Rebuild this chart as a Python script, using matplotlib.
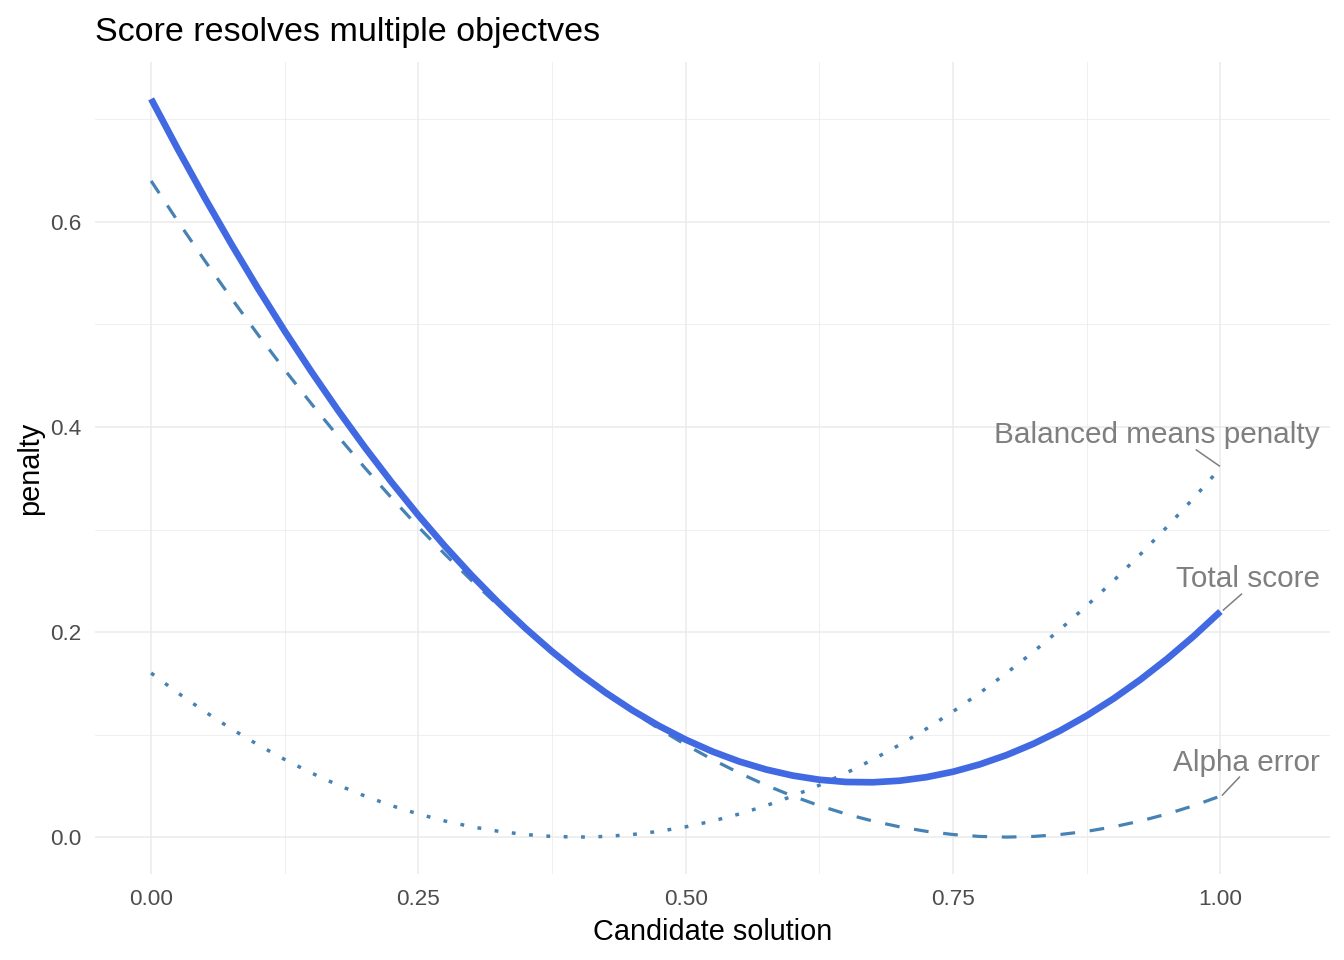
import matplotlib
matplotlib.use("Agg")
import matplotlib.pyplot as plt
from matplotlib.ticker import FixedLocator

plt.rcParams['font.family'] = ['Liberation Sans', 'DejaVu Sans']

x_vals = [0.000, 0.025, 0.050, 0.075, 0.100, 0.125, 0.150, 0.175, 0.200, 0.225,
          0.250, 0.275, 0.300, 0.325, 0.350, 0.375, 0.400, 0.425, 0.450, 0.475,
          0.500, 0.525, 0.550, 0.575, 0.600, 0.625, 0.650, 0.675, 0.700, 0.725,
          0.750, 0.775, 0.800, 0.825, 0.850, 0.875, 0.900, 0.925, 0.950, 0.975, 1.000]
alpha_error = [0.640, 0.600625, 0.5625, 0.525625, 0.490, 0.455625, 0.4225, 0.390625, 0.360, 0.330625,
               0.3025, 0.275625, 0.250, 0.225625, 0.2025, 0.180625, 0.160, 0.140625, 0.1225, 0.105625,
               0.090, 0.075625, 0.0625, 0.050625, 0.040, 0.030625, 0.0225, 0.015625, 0.010, 0.005625,
               0.0025, 0.000625, 0.000, 0.000625, 0.0025, 0.005625, 0.010, 0.015625, 0.0225, 0.030625, 0.040]
balanced_penalty = [0.160, 0.140625, 0.1225, 0.105625, 0.090, 0.075625, 0.0625, 0.050625, 0.040, 0.030625,
                    0.0225, 0.015625, 0.010, 0.005625, 0.0025, 0.000625, 0.000, 0.000625, 0.0025, 0.005625,
                    0.010, 0.015625, 0.0225, 0.030625, 0.040, 0.050625, 0.0625, 0.075625, 0.090, 0.105625,
                    0.1225, 0.140625, 0.160, 0.180625, 0.2025, 0.225625, 0.250, 0.275625, 0.3025, 0.330625, 0.360]
total_score = [0.720, 0.6709375, 0.62375, 0.5784375, 0.535, 0.4934375, 0.45375, 0.4159375, 0.380, 0.3459375,
               0.31375, 0.2834375, 0.255, 0.2284375, 0.20375, 0.1809375, 0.160, 0.1409375, 0.12375, 0.1084375,
               0.095, 0.0834375, 0.07375, 0.0659375, 0.060, 0.0559375, 0.05375, 0.0534375, 0.055, 0.0584375,
               0.06375, 0.0709375, 0.080, 0.0909375, 0.10375, 0.1184375, 0.135, 0.1534375, 0.17375, 0.1959375, 0.220]

label_texts = ["Balanced means penalty", "Total score", "Alpha error"]
label_y = [0.392, 0.252, 0.072]
label_x = 1.0927
seg_start = [(0.9775, 0.3776), (1.0197, 0.237), (1.0178, 0.0585)]
seg_end = [(0.999, 0.362), (1.0028, 0.2215), (1.0019, 0.041)]

x_ticks = [0.00, 0.25, 0.50, 0.75, 1.00]
x_ticklabels = ["0.00", "0.25", "0.50", "0.75", "1.00"]
y_ticks = [0.0, 0.2, 0.4, 0.6]
y_ticklabels = ["0.0", "0.2", "0.4", "0.6"]

fig = plt.figure(figsize=(13.44, 9.6), dpi=100)
ax = fig.add_axes([95/1344, 1 - 874/960, (1330-95)/1344, (874-62)/960])

grid_c = "#EBEBEB"
ax.set_xlim(-0.0525, 1.1025)
ax.set_ylim(-0.036, 0.756)
ax.xaxis.set_major_locator(FixedLocator(x_ticks))
ax.yaxis.set_major_locator(FixedLocator(y_ticks))
ax.xaxis.set_minor_locator(FixedLocator([0.125, 0.375, 0.625, 0.875]))
ax.yaxis.set_minor_locator(FixedLocator([0.1, 0.3, 0.5, 0.7]))
ax.set_xticklabels(x_ticklabels)
ax.set_yticklabels(y_ticklabels)
ax.grid(which='major', color=grid_c, lw=1.1)
ax.grid(which='minor', color=grid_c, lw=0.55)
ax.set_axisbelow(True)
for s in ax.spines.values():
    s.set_visible(False)
ax.tick_params(which='both', length=0)
ax.tick_params(axis='x', pad=10.5, labelsize=16.2, labelcolor="#4D4D4D")
ax.tick_params(axis='y', pad=10, labelsize=16.2, labelcolor="#4D4D4D")

ax.plot(x_vals, balanced_penalty, color="steelblue", lw=2.5, linestyle=(0, (1.1, 3.9)))
ax.plot(x_vals, alpha_error, color="steelblue", lw=2.3, linestyle=(0, (4.6, 4.6)))
ax.plot(x_vals, total_score, color="royalblue", lw=4.8, solid_capstyle='butt')

for t, ly, s0, s1 in zip(label_texts, label_y, seg_start, seg_end):
    ax.text(label_x, ly, t, ha='right', va='center', fontsize=21.4, color="#7F7F7F")
    ax.plot([s0[0], s1[0]], [s0[1], s1[1]], color="#7F7F7F", lw=1.1)

ax.set_xlabel("Candidate solution", fontsize=20.8, color="black", labelpad=6)
ax.set_ylabel("penalty", fontsize=20.8, color="black", labelpad=4)
fig.text(95/1344, 1 - 32/960, "Score resolves multiple objectves", ha='left', va='center',
         fontsize=24.5, color="black")

fig.savefig("out.png", dpi=100)
